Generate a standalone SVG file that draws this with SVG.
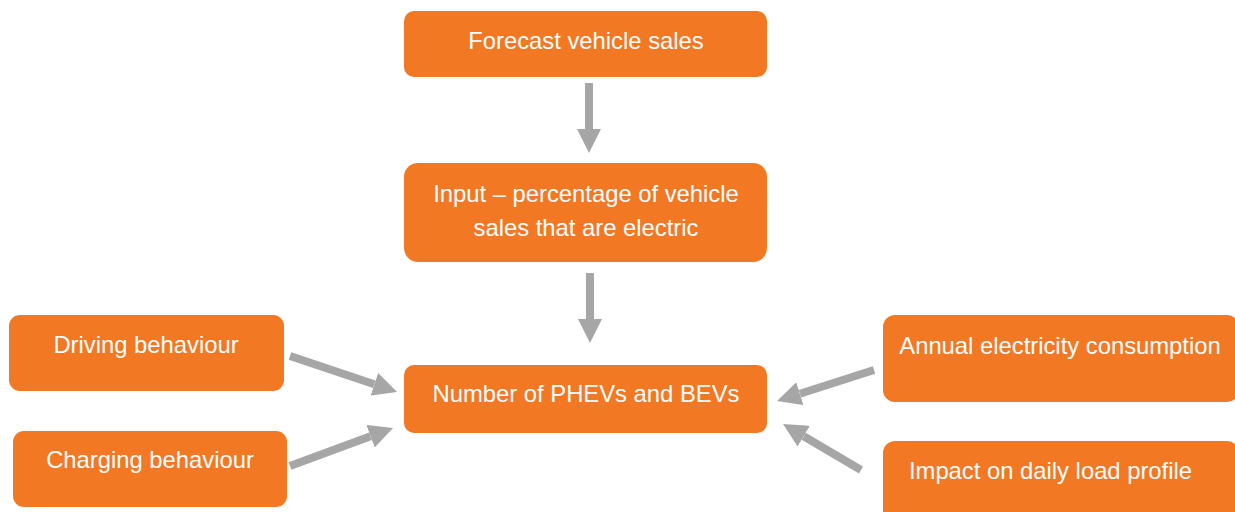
<svg xmlns="http://www.w3.org/2000/svg" width="1235" height="512" viewBox="0 0 1235 512">
<style>
.box{fill:#F37823;}
.t{font-family:"Liberation Sans",Arial,sans-serif;font-size:23.8px;fill:#FFFFFF;text-anchor:middle;}
.c{stroke:#A6A6A6;stroke-width:8;fill:none;}
</style>
<defs>
<marker id="ah" markerUnits="userSpaceOnUse" markerWidth="24" markerHeight="24" refX="0" refY="12" orient="auto" viewBox="0 0 24 24">
<path d="M0,0 L24,12 L0,24 z" fill="#A6A6A6"/>
</marker>
</defs>
<rect width="1235" height="512" fill="#FFFFFF"/>
<g id="connectors">
<line class="c" x1="589" y1="83" x2="589" y2="129" marker-end="url(#ah)"/>
<line class="c" x1="590" y1="273" x2="590" y2="319" marker-end="url(#ah)"/>
<line class="c" x1="290" y1="356" x2="374.3" y2="384.3" marker-end="url(#ah)"/>
<line class="c" x1="290" y1="466" x2="370.5" y2="436.3" marker-end="url(#ah)"/>
<line class="c" x1="874" y1="370" x2="799.9" y2="393.7" marker-end="url(#ah)"/>
<line class="c" x1="861" y1="470" x2="803.7" y2="436.2" marker-end="url(#ah)"/>
</g>
<g id="forecast">
<rect class="box" x="404" y="11" width="363" height="66" rx="10"/>
<text class="t" x="586" y="49">Forecast vehicle sales</text>
</g>
<g id="input">
<rect class="box" x="404" y="163" width="363" height="99" rx="14"/>
<text class="t" x="586" y="202">Input – percentage of vehicle</text>
<text class="t" x="586" y="236">sales that are electric</text>
</g>
<g id="number">
<rect class="box" x="404" y="365" width="363" height="68" rx="10"/>
<text class="t" x="586" y="402">Number of PHEVs and BEVs</text>
</g>
<g id="driving">
<rect class="box" x="9" y="315" width="275" height="76" rx="11"/>
<text class="t" x="146" y="353">Driving behaviour</text>
</g>
<g id="charging">
<rect class="box" x="13" y="431" width="274" height="76" rx="11"/>
<text class="t" x="150" y="468">Charging behaviour</text>
</g>
<g id="annual">
<rect class="box" x="883" y="315" width="356" height="87" rx="12"/>
<text class="t" x="1060" y="354">Annual electricity consumption</text>
</g>
<g id="impact">
<rect class="box" x="883" y="441" width="356" height="87" rx="12"/>
<text class="t" x="1050.5" y="479">Impact on daily load profile</text>
</g>
</svg>
